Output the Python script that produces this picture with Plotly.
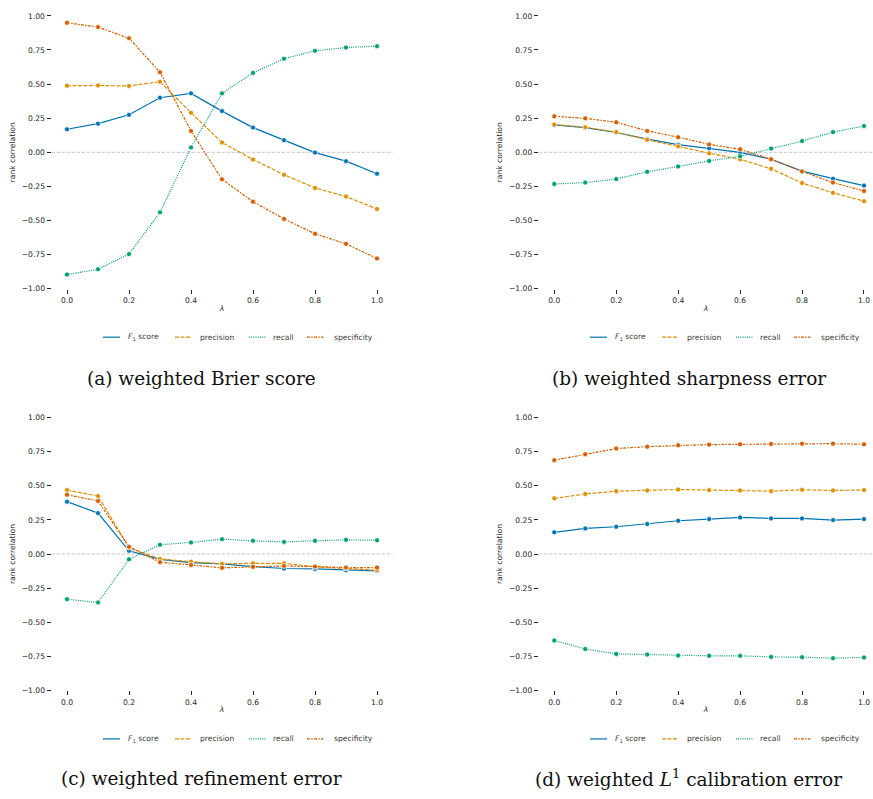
import plotly.graph_objects as go

W, H = 873, 799

# lambda grid shared by all four panels
lam = [0.0, 0.1, 0.2, 0.3, 0.4, 0.5, 0.6, 0.7, 0.8, 0.9, 1.0]

# (a) weighted Brier score
brier_f1 = [0.169, 0.210, 0.275, 0.400, 0.432, 0.302, 0.181, 0.089, -0.002, -0.065, -0.157]
brier_prec = [0.488, 0.490, 0.486, 0.517, 0.290, 0.072, -0.053, -0.164, -0.261, -0.324, -0.415]
brier_rec = [-0.896, -0.857, -0.746, -0.440, 0.036, 0.432, 0.582, 0.686, 0.744, 0.768, 0.778]
brier_spec = [0.949, 0.918, 0.836, 0.587, 0.157, -0.198, -0.362, -0.488, -0.597, -0.671, -0.778]

# (b) weighted sharpness error
sharp_f1 = [0.201, 0.181, 0.145, 0.097, 0.056, 0.029, 0.000, -0.051, -0.138, -0.193, -0.244]
sharp_prec = [0.203, 0.184, 0.148, 0.092, 0.044, -0.007, -0.051, -0.121, -0.225, -0.297, -0.358]
sharp_rec = [-0.232, -0.222, -0.196, -0.143, -0.104, -0.063, -0.029, 0.027, 0.082, 0.148, 0.193]
sharp_spec = [0.264, 0.249, 0.220, 0.157, 0.111, 0.058, 0.022, -0.051, -0.140, -0.222, -0.283]

# (c) weighted refinement error
refine_f1 = [0.384, 0.300, 0.024, -0.039, -0.063, -0.072, -0.092, -0.106, -0.109, -0.118, -0.123]
refine_prec = [0.469, 0.425, 0.048, -0.036, -0.056, -0.072, -0.068, -0.068, -0.094, -0.104, -0.118]
refine_rec = [-0.331, -0.355, -0.039, 0.068, 0.085, 0.109, 0.097, 0.089, 0.097, 0.104, 0.101]
refine_spec = [0.435, 0.389, 0.053, -0.060, -0.080, -0.101, -0.094, -0.087, -0.092, -0.099, -0.099]

# (d) weighted L1 calibration error
calib_f1 = [0.159, 0.188, 0.200, 0.220, 0.244, 0.256, 0.268, 0.261, 0.261, 0.249, 0.256]
calib_prec = [0.408, 0.440, 0.461, 0.466, 0.473, 0.469, 0.466, 0.461, 0.471, 0.466, 0.469]
calib_rec = [-0.633, -0.696, -0.732, -0.737, -0.744, -0.746, -0.746, -0.754, -0.756, -0.763, -0.758]
calib_spec = [0.688, 0.732, 0.773, 0.787, 0.797, 0.802, 0.804, 0.807, 0.809, 0.809, 0.804]

metric_names = ["<i>F</i><sub>1</sub> score", "precision", "recall", "specificity"]
captions = [
    "(a) weighted Brier score",
    "(b) weighted sharpness error",
    "(c) weighted refinement error",
    "(d) weighted <i>L</i><sup>1</sup> calibration error",
]
y_ticks = [-1.0, -0.75, -0.5, -0.25, 0.0, 0.25, 0.5, 0.75, 1.0]
x_ticks = [0.0, 0.2, 0.4, 0.6, 0.8, 1.0]

panels = [
    [brier_f1, brier_prec, brier_rec, brier_spec],
    [sharp_f1, sharp_prec, sharp_rec, sharp_spec],
    [refine_f1, refine_prec, refine_rec, refine_spec],
    [calib_f1, calib_prec, calib_rec, calib_spec],
]

# styling
colors = ["#0173b2", "#de8f05", "#029e73", "#d55e00"]
dashes = ["solid", "4px,1.5px", "1px,1.2px", "3px,1.25px,1.5px,1.25px"]
TXT = "#262626"
FONT = "DejaVu Sans"


def px(x):
    return x / W


def py(y):
    return 1 - y / H


# panel geometry in pixels: (left, right, top, bottom, x range max)
geom = [
    (51.5, 392.5, 12.0, 288.0, 1.05),
    (538.8, 873.0, 12.0, 288.0, 1.0291),
    (51.5, 392.5, 418.3, 694.3, 1.05),
    (538.8, 873.0, 418.3, 694.3, 1.0291),
]

fig = go.Figure()
layout = dict(
    width=W, height=H,
    margin=dict(l=0, r=0, t=0, b=0),
    paper_bgcolor="white", plot_bgcolor="white",
    showlegend=False,
    font=dict(family=FONT, size=7.6, color=TXT),
)
shapes = []
annotations = []

for i, (series, (l, r, t, b, xmax)) in enumerate(zip(panels, geom)):
    k = "" if i == 0 else str(i + 1)
    xa, ya = "x" + k, "y" + k
    for j, vals in enumerate(series):
        fig.add_trace(go.Scatter(
            x=lam, y=vals, xaxis=xa, yaxis=ya, mode="lines+markers",
            name=metric_names[j],
            line=dict(color=colors[j], width=1.2, dash=dashes[j]),
            marker=dict(color=colors[j], size=5, line=dict(color="white", width=0.7)),
        ))
    common = dict(
        showgrid=False, zeroline=False, showline=False,
        ticks="outside", ticklen=4, tickwidth=1, tickcolor=TXT,
        tickfont=dict(family=FONT, size=7.6, color=TXT),
    )
    layout["xaxis" + k] = dict(
        domain=[px(l), px(r)], range=[-0.05, xmax], anchor=ya,
        tickvals=x_ticks, tickformat=".1f",
        title=dict(text="<i>λ</i>", standoff=1, font=dict(family=FONT, size=7.6, color=TXT)),
        **common,
    )
    layout["yaxis" + k] = dict(
        domain=[py(b), py(t)], range=[-1.0, 1.0], anchor=xa,
        tickvals=y_ticks, tickformat=".2f",
        title=dict(text="rank correlation", standoff=5, font=dict(family=FONT, size=7.6, color=TXT)),
        **common,
    )
    # dashed reference line at zero correlation
    shapes.append(dict(
        type="line", xref=xa + " domain", x0=0, x1=1, yref=ya, y0=0, y1=0,
        line=dict(color="#c8c8c8", width=1, dash="3.5px,1.5px"), layer="below",
    ))

    # legend row under each panel
    shift = 0 if i % 2 == 0 else 487
    ly = 337.0 if i < 2 else 743.3
    line_x = [(103.0, 120.0), (175.0, 191.5), (249.0, 266.0), (307.0, 323.5)]
    text_x = [126.0, 197.5, 271.0, 331.5]
    for j in range(4):
        x0, x1 = line_x[j]
        shapes.append(dict(
            type="line", xref="paper", yref="paper",
            x0=px(x0 + shift), x1=px(x1 + shift), y0=py(ly), y1=py(ly),
            line=dict(color=colors[j], width=1.2, dash=dashes[j]),
        ))
        annotations.append(dict(
            text=metric_names[j], xref="paper", yref="paper",
            x=px(text_x[j] + shift), y=py(ly), xanchor="left", yanchor="middle",
            showarrow=False, font=dict(family=FONT, size=7.6, color="#3a3a3a"),
        ))

    # caption under each panel
    cx = 201.0 if i % 2 == 0 else 688.5
    cy = 379.0 if i < 2 else 783.0
    annotations.append(dict(
        text=captions[i], xref="paper", yref="paper",
        x=px(cx), y=py(cy), xanchor="center", yanchor="middle",
        showarrow=False, font=dict(family="DejaVu Serif", size=18.5, color="#111111"),
    ))

layout["shapes"] = shapes
layout["annotations"] = annotations
fig.update_layout(**layout)
fig.write_html("out.html")
